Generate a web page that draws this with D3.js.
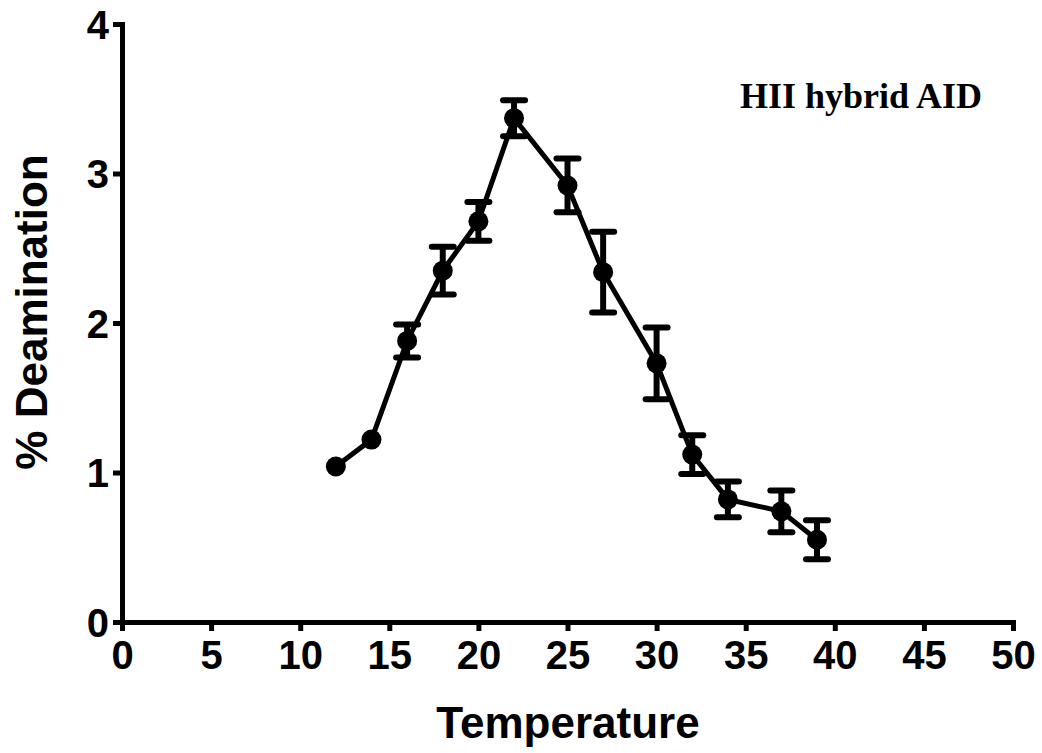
<!DOCTYPE html>
<html><head><meta charset="utf-8">
<script src="https://cdn.jsdelivr.net/npm/d3@7"></script>
<style>body{margin:0;background:#fff}svg{display:block}</style>
</head><body>
<svg id="c" width="1042" height="753"></svg>
<script>
const temperature = [12,14,16,18,20,22,25,27,30,32,34,37,39];
const deamination = [1.04,1.22,1.88,2.35,2.68,3.37,2.92,2.34,1.73,1.12,0.82,0.74,0.55];
const errorSEM   = [0,0,0.11,0.16,0.13,0.12,0.18,0.27,0.24,0.13,0.12,0.14,0.13];
const xTicks = [0,5,10,15,20,25,30,35,40,45,50];
const yTicks = [0,1,2,3,4];

const svg = d3.select("#c");
const x = d3.scaleLinear().domain([0,50]).range([122,1013]);
const y = d3.scaleLinear().domain([0,4]).range([622,24]);
const sans = "Liberation Sans, Arial, sans-serif";

const xa = svg.append("g").attr("transform","translate(0,622)")
  .call(d3.axisBottom(x).tickValues(xTicks).tickFormat(d3.format("d")).tickSize(9).tickPadding(6).tickSizeOuter(0));
const ya = svg.append("g").attr("transform","translate(122,0)")
  .call(d3.axisLeft(y).tickValues(yTicks).tickFormat(d3.format("d")).tickSize(9).tickPadding(4).tickSizeOuter(0));
[xa,ya].forEach(a=>{
  a.attr("font-size",null).attr("font-family",null);
  a.select(".domain").attr("stroke","#000").attr("stroke-width",5).attr("stroke-linecap","square");
  a.selectAll(".tick line").attr("stroke","#000").attr("stroke-width",5);
  a.selectAll(".tick text").attr("fill","#000")
   .style("font-family",sans).style("font-weight","bold").style("font-size","40px");
});
xa.selectAll(".tick text").attr("dy","0.71em").attr("y",19);
ya.selectAll(".tick text").attr("dy","0.36em");

const pts = temperature.map((t,i)=>({t, v:deamination[i], e:errorSEM[i]}));

// line
svg.append("path").datum(pts)
  .attr("d", d3.line().x(d=>x(d.t)).y(d=>y(d.v)))
  .attr("fill","none").attr("stroke","#000").attr("stroke-width",5);

// error bars
const eb = svg.append("g").attr("stroke","#000").attr("stroke-width",6);
pts.filter(d=>d.e>0).forEach(d=>{
  eb.append("line").attr("x1",x(d.t)).attr("x2",x(d.t)).attr("y1",y(d.v-d.e)).attr("y2",y(d.v+d.e));
  [d.v-d.e,d.v+d.e].forEach(v=>{
    eb.append("line").attr("x1",x(d.t)-11).attr("x2",x(d.t)+11).attr("y1",y(v)).attr("y2",y(v))
      .attr("stroke-linecap","round");
  });
});

// markers
svg.append("g").selectAll("circle").data(pts).join("circle")
  .attr("cx",d=>x(d.t)).attr("cy",d=>y(d.v)).attr("r",10).attr("fill","#000");

// titles
svg.append("text").attr("x",568).attr("y",738).attr("text-anchor","middle")
  .style("font-family",sans).style("font-weight","bold").style("font-size","44px")
  .text("Temperature");
svg.append("text").attr("transform","translate(47,312) rotate(-90)").attr("text-anchor","middle")
  .style("font-family",sans).style("font-weight","bold").style("font-size","44px")
  .text("% Deamination");
svg.append("text").attr("x",740).attr("y",108)
  .style("font-family","Liberation Serif, Times New Roman, serif").style("font-weight","bold").style("font-size","36px")
  .text("HII hybrid AID");
</script>
</body></html>
